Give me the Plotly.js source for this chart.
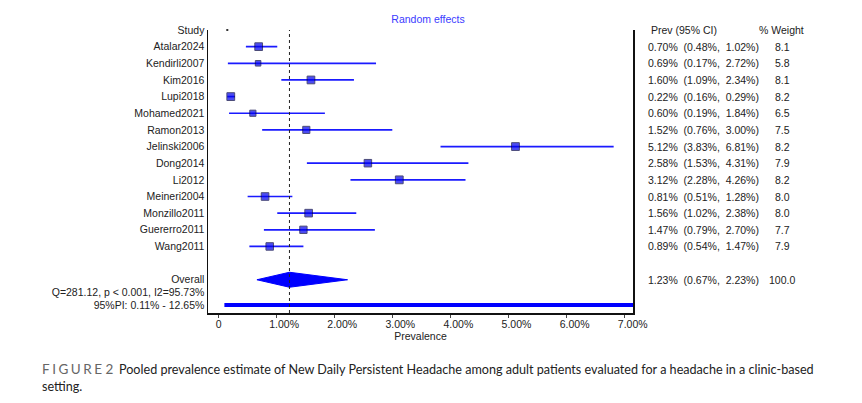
<!DOCTYPE html>
<html>
<head>
<meta charset="utf-8">
<script src="https://cdn.plot.ly/plotly-3.0.1.min.js"></script>
<style>html,body{margin:0;padding:0;background:#fff;}#chart{width:862px;height:403px;}</style>
</head>
<body>
<div id="chart"></div>
<script>
// ---- data ----
const studies = ["Atalar2024","Kendirli2007","Kim2016","Lupi2018","Mohamed2021","Ramon2013","Jelinski2006","Dong2014","Li2012","Meineri2004","Monzillo2011","Guererro2011","Wang2011"];
const prev    = [0.70, 0.69, 1.60, 0.22, 0.60, 1.52, 5.12, 2.58, 3.12, 0.81, 1.56, 1.47, 0.89];
const lower   = [0.48, 0.17, 1.09, 0.16, 0.19, 0.76, 3.83, 1.53, 2.28, 0.51, 1.02, 0.79, 0.54];
const upper   = [1.02, 2.72, 2.34, 0.29, 1.84, 3.00, 6.81, 4.31, 4.26, 1.28, 2.38, 2.70, 1.47];
const weights = [8.1, 5.8, 8.1, 8.2, 6.5, 7.5, 8.2, 7.9, 8.2, 8.0, 8.0, 7.7, 7.9];
const overallEst = 1.23, overallLow = 0.67, overallHigh = 2.23, overallWeight = 100.0;
const piLow = 0.11, piHigh = 12.65;
const hetText = "Q=281.12, p < 0.001, I2=95.73%";
const xTickVals = [0, 1, 2, 3, 4, 5, 6, 7];
const xTickText = ["0", "1.00%", "2.00%", "3.00%", "4.00%", "5.00%", "6.00%", "7.00%"];
const headerDot = 0.16;

// ---- rows ----
const rowStudy = studies.map((s, i) => i + 1);
const rowHeader = 0, rowOverall = 15, rowHet = 15.77, rowPI = 16.52;

const FONT = "Liberation Sans, Arial, sans-serif";
const NB = "\u00a0";
const fmt = v => v.toFixed(2) + "%";
const ciStr = (e, l, h) => fmt(e) + NB + NB + "(" + fmt(l) + "," + NB + NB + fmt(h) + ")";

const traces = [];
// study CIs + squares
traces.push({
  type: "scatter", mode: "markers",
  x: prev, y: rowStudy,
  error_x: {type: "data", symmetric: false,
            array: prev.map((p, i) => upper[i] - p),
            arrayminus: prev.map((p, i) => p - lower[i]),
            color: "#1a1aff", thickness: 1.7, width: 0},
  marker: {symbol: "square", color: "#0000ee", size: weights.map(w => w * 0.95),
           line: {color: "#000040", width: 1}},
  hoverinfo: "skip", showlegend: false, cliponaxis: false
});
// overall diamond
const dh = 0.45;
traces.push({
  type: "scatter", mode: "lines",
  x: [overallLow, overallEst, overallHigh, overallEst, overallLow],
  y: [rowOverall, rowOverall - dh, rowOverall, rowOverall + dh, rowOverall],
  fill: "toself", fillcolor: "#0000ff", line: {color: "#0000ff", width: 1},
  hoverinfo: "skip", showlegend: false
});
// prediction interval
traces.push({
  type: "scatter", mode: "lines",
  x: [piLow, piHigh], y: [rowPI, rowPI],
  line: {color: "#0000ff", width: 4},
  hoverinfo: "skip", showlegend: false
});
// header dot
traces.push({
  type: "scatter", mode: "markers", x: [headerDot], y: [rowHeader],
  marker: {symbol: "square", size: 2, color: "#333"}, hoverinfo: "skip", showlegend: false, cliponaxis: false
});

const L = 208, R = 633, T = 30, B = 313;
const px2paperX = p => (p - L) / (R - L);
const px2paperY = p => (B - p) / (B - T);

const annotations = [];
const txtFont = {family: FONT, size: 10.5, color: "#222"};
// right column headers
annotations.push({xref: "paper", yref: "y", x: px2paperX(649), y: rowHeader, xanchor: "left", yanchor: "middle",
  text: "Prev (95% CI)", showarrow: false, font: txtFont});
annotations.push({xref: "paper", yref: "y", x: px2paperX(757), y: rowHeader, xanchor: "left", yanchor: "middle",
  text: "%" + NB + "Weight", showarrow: false, font: txtFont});
studies.forEach((s, i) => {
  annotations.push({xref: "paper", yref: "y", x: px2paperX(646), y: rowStudy[i], xanchor: "left", yanchor: "middle",
    text: ciStr(prev[i], lower[i], upper[i]), showarrow: false, font: txtFont});
  annotations.push({xref: "paper", yref: "y", x: px2paperX(782), y: rowStudy[i], xanchor: "center", yanchor: "middle",
    text: weights[i].toFixed(1), showarrow: false, font: txtFont});
});
annotations.push({xref: "paper", yref: "y", x: px2paperX(646), y: rowOverall, xanchor: "left", yanchor: "middle",
  text: ciStr(overallEst, overallLow, overallHigh), showarrow: false, font: txtFont});
annotations.push({xref: "paper", yref: "y", x: px2paperX(782), y: rowOverall, xanchor: "center", yanchor: "middle",
  text: overallWeight.toFixed(1), showarrow: false, font: txtFont});
// caption
const capFont = {family: "Lato, sans-serif", size: 12.6, color: "#222"};
const sp = "\u2009\u200a";
annotations.push({xref: "paper", yref: "paper", x: px2paperX(40), y: px2paperY(369), xanchor: "left", yanchor: "middle",
  text: ["F","I","G","U","R","E"].join(sp) + " 2", showarrow: false,
  font: {family: "Lato, sans-serif", size: 13.5, color: "#666"}});
annotations.push({xref: "paper", yref: "paper", x: px2paperX(117), y: px2paperY(369), xanchor: "left", yanchor: "middle",
  text: "Pooled prevalence estimate of New Daily Persistent Headache among adult patients evaluated for a headache in a clinic-based",
  showarrow: false, font: capFont});
annotations.push({xref: "paper", yref: "paper", x: px2paperX(40), y: px2paperY(386), xanchor: "left", yanchor: "middle",
  text: "setting.", showarrow: false, font: capFont});

const yTickVals = [rowHeader].concat(rowStudy, [rowOverall, rowHet, rowPI]);
const yTickText = ["Study"].concat(studies, ["Overall", hetText, "95%PI: " + fmt(piLow) + " - " + fmt(piHigh)]);

const layout = {
  width: 862, height: 403,
  margin: {l: L, r: 862 - R, t: T, b: 403 - B},
  paper_bgcolor: "#fff", plot_bgcolor: "#fff",
  font: {family: FONT, size: 10.5, color: "#222"},
  title: {text: "Random effects", font: {family: FONT, size: 10.5, color: "#3b3bff"},
          x: 428 / 862, xanchor: "center", y: 1 - 19 / 403, yanchor: "middle", xref: "container", yref: "container"},
  xaxis: {range: [(L - 218) / 58.1, (R - 218) / 58.1], tickvals: xTickVals,
          ticktext: xTickText.map((t, i) => i === 0 ? t + NB.repeat(5) : t),
          ticklabelshift: 8, ticklabelstandoff: -2,
          showgrid: false, zeroline: false, showline: true, linecolor: "#111", linewidth: 1.5,
          ticks: "outside", ticklen: 3, tickcolor: "#444", tickwidth: 1,
          tickfont: {family: FONT, size: 10.5, color: "#222"},
          title: {text: "Prevalence", font: {family: FONT, size: 10.5, color: "#222"}, standoff: 0}},
  yaxis: {range: [(B - T) / 16.65, 0], tickvals: yTickVals, ticktext: yTickText,
          showgrid: false, zeroline: false, showline: true, mirror: true, linecolor: "#111", linewidth: 1.5,
          ticks: "", ticklabelstandoff: 0,
          tickfont: {family: FONT, size: 10.5, color: "#222"}},
  shapes: [{type: "line", xref: "x", yref: "paper", x0: overallEst, x1: overallEst, y0: 0, y1: 1,
            line: {color: "#222", width: 1, dash: "dot"}, layer: "above"}],
  annotations: annotations,
  showlegend: false
};

Plotly.newPlot("chart", traces, layout, {displayModeBar: false, staticPlot: true});
</script>
</body>
</html>
